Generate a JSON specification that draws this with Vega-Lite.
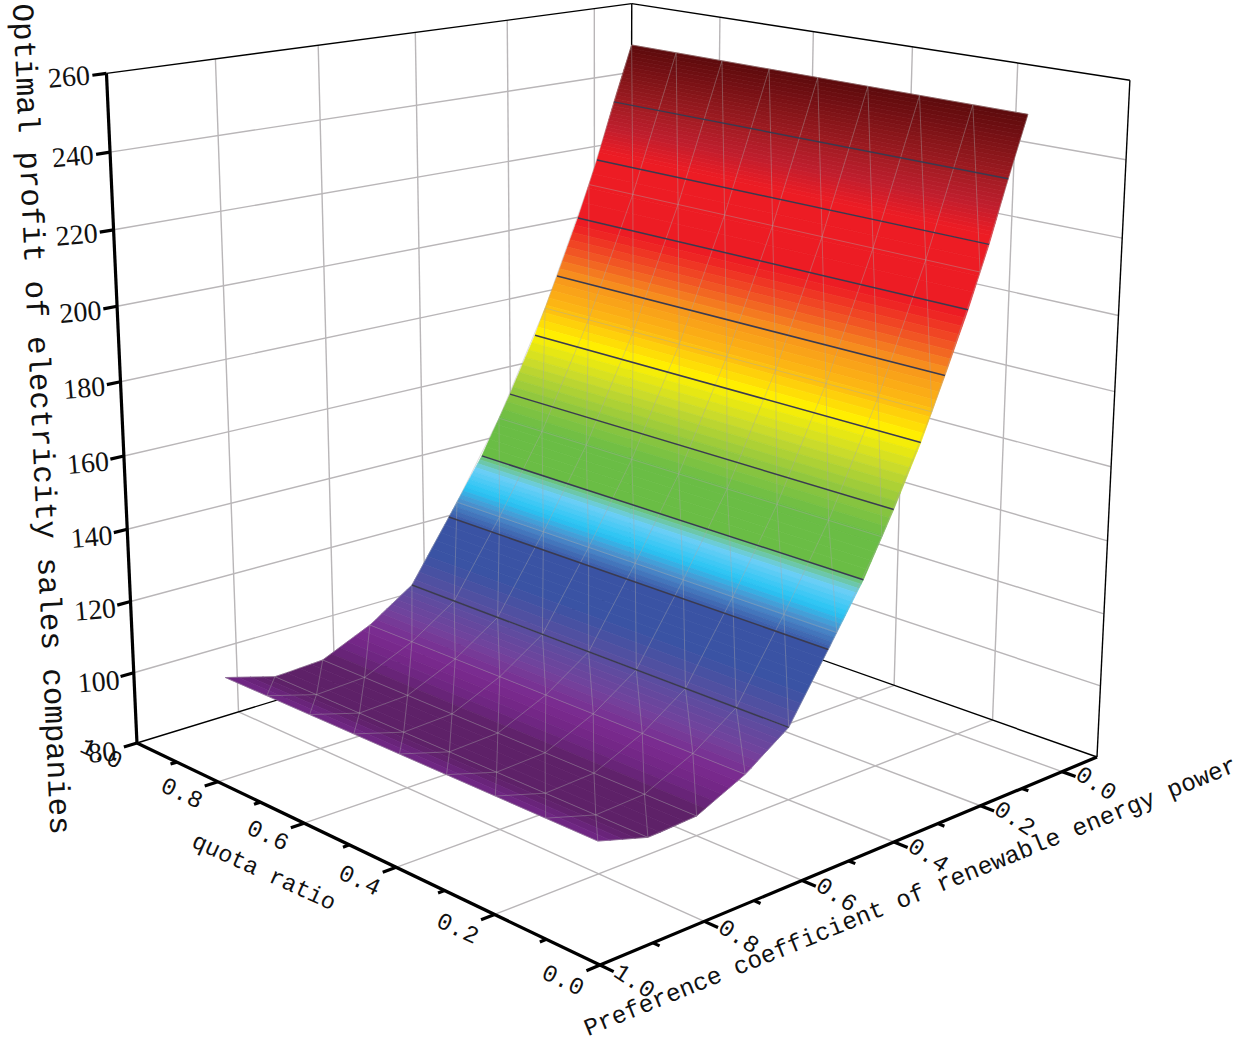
{"$schema":"https://vega.github.io/schema/vega-lite/v6.json","width":1245,"height":1046,"padding":0,"autosize":{"type":"fit","contains":"padding"},"background":"white","config":{"view":{"stroke":null}},
"projection":{"type":"identity","scale":1,"translate":[0,0]},
"datasets":{
"segments":[
{"k":"grid","q":0.2,"p":1,"z":80,"q2":0.2,"p2":-0.0893,"z2":80},{"k":"grid","q":0.4,"p":1,"z":80,"q2":0.4,"p2":-0.0893,"z2":80},{"k":"grid","q":0.6,"p":1,"z":80,"q2":0.6,"p2":-0.0893,"z2":80},{"k":"grid","q":0.8,"p":1,"z":80,"q2":0.8,"p2":-0.0893,"z2":80},
{"k":"grid","q":0,"p":0,"z":80,"q2":1,"p2":0,"z2":80},{"k":"grid","q":0,"p":0.2,"z":80,"q2":1,"p2":0.2,"z2":80},{"k":"grid","q":0,"p":0.4,"z":80,"q2":1,"p2":0.4,"z2":80},{"k":"grid","q":0,"p":0.6,"z":80,"q2":1,"p2":0.6,"z2":80},{"k":"grid","q":0,"p":0.8,"z":80,"q2":1,"p2":0.8,"z2":80},
{"k":"grid","q":1,"p":0,"z":80,"q2":1,"p2":0,"z2":260},{"k":"grid","q":1,"p":0.2,"z":80,"q2":1,"p2":0.2,"z2":260},{"k":"grid","q":1,"p":0.4,"z":80,"q2":1,"p2":0.4,"z2":260},{"k":"grid","q":1,"p":0.6,"z":80,"q2":1,"p2":0.6,"z2":260},{"k":"grid","q":1,"p":0.8,"z":80,"q2":1,"p2":0.8,"z2":260},
{"k":"grid","q":0.2,"p":-0.0893,"z":80,"q2":0.2,"p2":-0.0893,"z2":260},{"k":"grid","q":0.4,"p":-0.0893,"z":80,"q2":0.4,"p2":-0.0893,"z2":260},{"k":"grid","q":0.6,"p":-0.0893,"z":80,"q2":0.6,"p2":-0.0893,"z2":260},{"k":"grid","q":0.8,"p":-0.0893,"z":80,"q2":0.8,"p2":-0.0893,"z2":260},
{"k":"grid","q":1,"p":1,"z":100,"q2":1,"p2":-0.0893,"z2":100},{"k":"grid","q":1,"p":1,"z":120,"q2":1,"p2":-0.0893,"z2":120},{"k":"grid","q":1,"p":1,"z":140,"q2":1,"p2":-0.0893,"z2":140},{"k":"grid","q":1,"p":1,"z":160,"q2":1,"p2":-0.0893,"z2":160},{"k":"grid","q":1,"p":1,"z":180,"q2":1,"p2":-0.0893,"z2":180},{"k":"grid","q":1,"p":1,"z":200,"q2":1,"p2":-0.0893,"z2":200},{"k":"grid","q":1,"p":1,"z":220,"q2":1,"p2":-0.0893,"z2":220},{"k":"grid","q":1,"p":1,"z":240,"q2":1,"p2":-0.0893,"z2":240},
{"k":"grid","q":1,"p":-0.0893,"z":100,"q2":0,"p2":-0.0893,"z2":100},{"k":"grid","q":1,"p":-0.0893,"z":120,"q2":0,"p2":-0.0893,"z2":120},{"k":"grid","q":1,"p":-0.0893,"z":140,"q2":0,"p2":-0.0893,"z2":140},{"k":"grid","q":1,"p":-0.0893,"z":160,"q2":0,"p2":-0.0893,"z2":160},{"k":"grid","q":1,"p":-0.0893,"z":180,"q2":0,"p2":-0.0893,"z2":180},{"k":"grid","q":1,"p":-0.0893,"z":200,"q2":0,"p2":-0.0893,"z2":200},{"k":"grid","q":1,"p":-0.0893,"z":220,"q2":0,"p2":-0.0893,"z2":220},{"k":"grid","q":1,"p":-0.0893,"z":240,"q2":0,"p2":-0.0893,"z2":240},
{"k":"thin","q":1,"p":1,"z":260,"q2":1,"p2":-0.0893,"z2":260},{"k":"thin","q":1,"p":-0.0893,"z":260,"q2":0,"p2":-0.0893,"z2":260},{"k":"thin","q":1,"p":-0.0893,"z":80,"q2":1,"p2":-0.0893,"z2":260},{"k":"thin","q":0,"p":-0.0893,"z":80,"q2":0,"p2":-0.0893,"z2":260},{"k":"thin","q":1,"p":1,"z":80,"q2":1,"p2":-0.0893,"z2":80},{"k":"thin","q":1,"p":-0.0893,"z":80,"q2":0,"p2":-0.0893,"z2":80},
{"k":"thick","q":1,"p":1,"z":80,"q2":1,"p2":1,"z2":260},{"k":"thick","q":1,"p":1,"z":80,"q2":0,"p2":1,"z2":80},{"k":"thick","q":0,"p":1,"z":80,"q2":0,"p2":-0.0893,"z2":80},
{"k":"tick","q":0,"p":1,"z":80,"q2":0,"p2":1.025,"z2":80},{"k":"tick","q":0.1,"p":1,"z":80,"q2":0.1,"p2":1.012,"z2":80},{"k":"tick","q":0.2,"p":1,"z":80,"q2":0.2,"p2":1.025,"z2":80},{"k":"tick","q":0.3,"p":1,"z":80,"q2":0.3,"p2":1.012,"z2":80},{"k":"tick","q":0.4,"p":1,"z":80,"q2":0.4,"p2":1.025,"z2":80},{"k":"tick","q":0.5,"p":1,"z":80,"q2":0.5,"p2":1.012,"z2":80},{"k":"tick","q":0.6,"p":1,"z":80,"q2":0.6,"p2":1.025,"z2":80},{"k":"tick","q":0.7,"p":1,"z":80,"q2":0.7,"p2":1.012,"z2":80},{"k":"tick","q":0.8,"p":1,"z":80,"q2":0.8,"p2":1.025,"z2":80},{"k":"tick","q":0.9,"p":1,"z":80,"q2":0.9,"p2":1.012,"z2":80},
{"k":"tick","q":0,"p":0,"z":80,"q2":-0.025,"p2":0,"z2":80},{"k":"tick","q":0,"p":0.1,"z":80,"q2":-0.012,"p2":0.1,"z2":80},{"k":"tick","q":0,"p":0.2,"z":80,"q2":-0.025,"p2":0.2,"z2":80},{"k":"tick","q":0,"p":0.3,"z":80,"q2":-0.012,"p2":0.3,"z2":80},{"k":"tick","q":0,"p":0.4,"z":80,"q2":-0.025,"p2":0.4,"z2":80},{"k":"tick","q":0,"p":0.5,"z":80,"q2":-0.012,"p2":0.5,"z2":80},{"k":"tick","q":0,"p":0.6,"z":80,"q2":-0.025,"p2":0.6,"z2":80},{"k":"tick","q":0,"p":0.7,"z":80,"q2":-0.012,"p2":0.7,"z2":80},{"k":"tick","q":0,"p":0.8,"z":80,"q2":-0.025,"p2":0.8,"z2":80},{"k":"tick","q":0,"p":0.9,"z":80,"q2":-0.012,"p2":0.9,"z2":80},{"k":"tick","q":0,"p":1,"z":80,"q2":-0.025,"p2":1,"z2":80},
{"k":"tick","q":1,"p":1,"z":80,"q2":1,"p2":1.025,"z2":80},{"k":"tick","q":1,"p":1,"z":100,"q2":1,"p2":1.025,"z2":100},{"k":"tick","q":1,"p":1,"z":120,"q2":1,"p2":1.025,"z2":120},{"k":"tick","q":1,"p":1,"z":140,"q2":1,"p2":1.025,"z2":140},{"k":"tick","q":1,"p":1,"z":160,"q2":1,"p2":1.025,"z2":160},{"k":"tick","q":1,"p":1,"z":180,"q2":1,"p2":1.025,"z2":180},{"k":"tick","q":1,"p":1,"z":200,"q2":1,"p2":1.025,"z2":200},{"k":"tick","q":1,"p":1,"z":220,"q2":1,"p2":1.025,"z2":220},{"k":"tick","q":1,"p":1,"z":240,"q2":1,"p2":1.025,"z2":240},{"k":"tick","q":1,"p":1,"z":260,"q2":1,"p2":1.025,"z2":260}
],
"strips":[{"z":248,"p":-0.0893},{"z":247,"p":-0.0866},{"z":246,"p":-0.084},{"z":245,"p":-0.0813},{"z":244,"p":-0.0787},{"z":243,"p":-0.076},{"z":242,"p":-0.0733},{"z":241,"p":-0.0706},{"z":240,"p":-0.068},{"z":239,"p":-0.0653},{"z":238,"p":-0.0626},{"z":237,"p":-0.06},{"z":236,"p":-0.0573},{"z":235,"p":-0.0546},{"z":234,"p":-0.052},{"z":233,"p":-0.0494},{"z":232.1,"p":-0.047},{"z":231,"p":-0.0444},{"z":230,"p":-0.0417},{"z":229,"p":-0.0392},{"z":228,"p":-0.0367},{"z":227,"p":-0.0342},{"z":226,"p":-0.0317},{"z":225,"p":-0.0292},{"z":224,"p":-0.0268},{"z":223,"p":-0.0243},{"z":222,"p":-0.0218},{"z":221,"p":-0.0193},{"z":220,"p":-0.0168},{"z":219,"p":-0.0143},{"z":218,"p":-0.0118},{"z":215.8,"p":-0.0063},{"z":212,"p":0.0044},{"z":208,"p":0.0157},{"z":204,"p":0.027},{"z":199.7,"p":0.0392},{"z":197.7,"p":0.0454},{"z":195.7,"p":0.0517},{"z":193.7,"p":0.058},{"z":191.7,"p":0.0642},{"z":189.7,"p":0.0704},{"z":187.7,"p":0.0766},{"z":185.7,"p":0.0828},{"z":183.7,"p":0.0891},{"z":181.7,"p":0.0956},{"z":179.7,"p":0.1021},{"z":177.7,"p":0.1086},{"z":175.7,"p":0.115},{"z":173.7,"p":0.1216},{"z":171.7,"p":0.128},{"z":169.7,"p":0.1345},{"z":167.5,"p":0.1416},{"z":165.5,"p":0.149},{"z":163.5,"p":0.1564},{"z":161.5,"p":0.164},{"z":159.5,"p":0.1714},{"z":157.5,"p":0.1787},{"z":155.5,"p":0.1863},{"z":153.5,"p":0.1937},{"z":151.6,"p":0.2007},{"z":149.6,"p":0.2088},{"z":147.6,"p":0.2168},{"z":145.6,"p":0.2248},{"z":143.6,"p":0.2329},{"z":141.6,"p":0.241},{"z":139.6,"p":0.249},{"z":137.6,"p":0.2571},{"z":135.2,"p":0.2667},{"z":134.2,"p":0.2715},{"z":133.2,"p":0.2764},{"z":132.2,"p":0.2813},{"z":131.2,"p":0.2862},{"z":130.2,"p":0.291},{"z":129.2,"p":0.2959},{"z":128.2,"p":0.3008},{"z":127.2,"p":0.3057},{"z":126.2,"p":0.3105},{"z":125.2,"p":0.3154},{"z":124.2,"p":0.3203},{"z":123.2,"p":0.3252},{"z":122.2,"p":0.33},{"z":121.2,"p":0.3349},{"z":120.3,"p":0.339},{"z":119.5,"p":0.3432},{"z":117.5,"p":0.3529},{"z":115.5,"p":0.3628},{"z":113.5,"p":0.3727},{"z":111.5,"p":0.3825},{"z":109.5,"p":0.3923},{"z":107.5,"p":0.4021},{"z":105.5,"p":0.4119},{"z":103.5,"p":0.4217},{"z":102.2,"p":0.4281},{"z":101.2,"p":0.4394},{"z":100.2,"p":0.4507},{"z":99.2,"p":0.462},{"z":98.2,"p":0.4732},{"z":97.2,"p":0.4845},{"z":96.2,"p":0.4957},{"z":95,"p":0.5082},{"z":93.9,"p":0.5216},{"z":92.9,"p":0.5381},{"z":91.9,"p":0.5546},{"z":90.9,"p":0.5711},{"z":89.9,"p":0.5876},{"z":88.8,"p":0.6057},{"z":87.7,"p":0.6239},{"z":87.5,"p":0.6486},{"z":87.3,"p":0.6732},{"z":87.1,"p":0.6986},{"z":87,"p":0.724},{"z":88,"p":0.749},{"z":89,"p":0.774},{"z":90,"p":0.7989},{"z":91,"p":0.8238}],
"mesh":[{"r":0,"p":-0.0893,"z":248},{"r":1,"p":0.0131,"z":209},{"r":2,"p":0.1176,"z":174.9},{"r":3,"p":0.2266,"z":145.2},{"r":4,"p":0.3246,"z":123.3},{"r":5,"p":0.4281,"z":102.2},{"r":6,"p":0.5216,"z":93.9},{"r":7,"p":0.6239,"z":87.7},{"r":8,"p":0.724,"z":87},{"r":9,"p":0.8238,"z":91}],
"contours":[{"p":-0.047,"z":232.1},{"p":-0.0063,"z":215.8},{"p":0.0392,"z":199.7},{"p":0.0891,"z":183.7},{"p":0.1416,"z":167.5},{"p":0.2007,"z":151.6},{"p":0.2667,"z":135.2},{"p":0.3432,"z":119.5},{"p":0.4281,"z":102.2}],
"qlabels":[{"t":"0.0","q":0},{"t":"0.2","q":0.2},{"t":"0.4","q":0.4},{"t":"0.6","q":0.6},{"t":"0.8","q":0.8},{"t":"1.0","q":1}],
"plabels":[{"t":"0.0","p":0},{"t":"0.2","p":0.2},{"t":"0.4","p":0.4},{"t":"0.6","p":0.6},{"t":"0.8","p":0.8},{"t":"1.0","p":1}],
"zlabels":[{"t":"80","z":80},{"t":"100","z":100},{"t":"120","z":120},{"t":"140","z":140},{"t":"160","z":160},{"t":"180","z":180},{"t":"200","z":200},{"t":"220","z":220},{"t":"240","z":240},{"t":"260","z":260}]
},
"layer":[
{"data":{"name":"segments"},"transform":[
{"calculate":"(1048.7-371.2*datum.q-540.7*datum.p-0.20589*(datum.z-80))/(0.98743+0.1521*datum.q-0.14073*datum.p-0.000344*(datum.z-80))","as":"lon"},
{"calculate":"(761.93-75*datum.q+55.17*datum.p-3.7667*(datum.z-80))/(0.98743+0.1521*datum.q-0.14073*datum.p-0.000344*(datum.z-80))+(datum.z-80)/180*(-3.59+4*datum.q+4.59*datum.p)","as":"lat"},
{"calculate":"(1048.7-371.2*datum.q2-540.7*datum.p2-0.20589*(datum.z2-80))/(0.98743+0.1521*datum.q2-0.14073*datum.p2-0.000344*(datum.z2-80))","as":"lon2"},
{"calculate":"(761.93-75*datum.q2+55.17*datum.p2-3.7667*(datum.z2-80))/(0.98743+0.1521*datum.q2-0.14073*datum.p2-0.000344*(datum.z2-80))+(datum.z2-80)/180*(-3.59+4*datum.q2+4.59*datum.p2)","as":"lat2"}],
"mark":{"type":"rule"},
"encoding":{"longitude":{"field":"lon","type":"quantitative"},"latitude":{"field":"lat","type":"quantitative"},"longitude2":{"field":"lon2"},"latitude2":{"field":"lat2"},
"color":{"condition":{"test":"datum.k=='grid'","value":"#b9b6b8"},"value":"#000000"},
"strokeWidth":{"condition":{"test":"datum.k=='thick'||datum.k=='tick'","value":3.2},"value":1.4}}},
{"data":{"name":"strips"},"transform":[
{"window":[{"op":"lead","field":"p","as":"p2"},{"op":"lead","field":"z","as":"z2"}],"sort":[{"field":"p","order":"ascending"}]},
{"filter":"datum.p2!=null"},
{"calculate":"(datum.z+datum.z2)/2","as":"zc"},
{"calculate":"1.13953-0.14073*datum.p-0.000344*(datum.z-80)","as":"wa"},
{"calculate":"1.0145-0.14073*datum.p-0.000344*(datum.z-80)","as":"wb0"},
{"calculate":"1.13953-0.14073*datum.p2-0.000344*(datum.z2-80)","as":"wd"},
{"calculate":"1.0145-0.14073*datum.p2-0.000344*(datum.z2-80)","as":"wc"},
{"calculate":"{type:'Feature',properties:{},geometry:{type:'Polygon',coordinates:[[[(677.5-540.7*datum.p-0.20589*(datum.z-80))/datum.wa,(686.93+55.17*datum.p-3.7667*(datum.z-80))/datum.wa],[(982.63-540.7*datum.p-0.20589*(datum.z-80))/datum.wb0,(748.58+55.17*datum.p-3.7667*(datum.z-80))/datum.wb0],[(982.63-540.7*datum.p2-0.20589*(datum.z2-80))/datum.wc,(748.58+55.17*datum.p2-3.7667*(datum.z2-80))/datum.wc],[(677.5-540.7*datum.p2-0.20589*(datum.z2-80))/datum.wd,(686.93+55.17*datum.p2-3.7667*(datum.z2-80))/datum.wd],[(677.5-540.7*datum.p-0.20589*(datum.z-80))/datum.wa,(686.93+55.17*datum.p-3.7667*(datum.z-80))/datum.wa]]]}}","as":"geo"}],
"mark":{"type":"geoshape","strokeWidth":0.7},
"encoding":{"shape":{"field":"geo","type":"geojson"},
"color":{"field":"zc","type":"quantitative","legend":null,"scale":{"interpolate":"rgb","domain":[87,88,90,93,97,102,110,119,124,127,132,136,145,152,160,168,176,184,190,198,218,225,232,248],"range":["#5e2168","#5e2168","#6d2580","#7b2a8f","#73429c","#5a4ea0","#3a53a4","#3a53a4","#4b94d0","#27c4f4","#6dcff6","#6abd45","#6abd45","#8dc63f","#c6d92e","#fff200","#fdb813","#f7941d","#f15a24","#ed1c24","#ed1c24","#bf1e2e","#a01c22","#5c0a0c"]}},
"stroke":{"field":"zc","type":"quantitative","legend":null,"scale":{"interpolate":"rgb","domain":[87,88,90,93,97,102,110,119,124,127,132,136,145,152,160,168,176,184,190,198,218,225,232,248],"range":["#5e2168","#5e2168","#6d2580","#7b2a8f","#73429c","#5a4ea0","#3a53a4","#3a53a4","#4b94d0","#27c4f4","#6dcff6","#6abd45","#6abd45","#8dc63f","#c6d92e","#fff200","#fdb813","#f7941d","#f15a24","#ed1c24","#ed1c24","#bf1e2e","#a01c22","#5c0a0c"]}}}},
{"data":{"name":"mesh"},"transform":[{"calculate":"[0.178,0.28075,0.3835,0.48625,0.589,0.69175,0.7945,0.89725,1]","as":"q"},{"flatten":["q"]},
{"calculate":"(1048.7-371.2*datum.q-540.7*datum.p-0.20589*(datum.z-80))/(0.98743+0.1521*datum.q-0.14073*datum.p-0.000344*(datum.z-80))","as":"lon"},
{"calculate":"(761.93-75*datum.q+55.17*datum.p-3.7667*(datum.z-80))/(0.98743+0.1521*datum.q-0.14073*datum.p-0.000344*(datum.z-80))","as":"lat"}],
"mark":{"type":"line","stroke":"#a8a8a8","strokeWidth":0.9,"opacity":0.45},
"encoding":{"longitude":{"field":"lon","type":"quantitative"},"latitude":{"field":"lat","type":"quantitative"},"detail":{"field":"r"},"order":{"field":"q","type":"quantitative"}}},
{"data":{"name":"mesh"},"transform":[{"calculate":"[0.178,0.28075,0.3835,0.48625,0.589,0.69175,0.7945,0.89725,1]","as":"q"},{"flatten":["q"]},
{"calculate":"(1048.7-371.2*datum.q-540.7*datum.p-0.20589*(datum.z-80))/(0.98743+0.1521*datum.q-0.14073*datum.p-0.000344*(datum.z-80))","as":"lon"},
{"calculate":"(761.93-75*datum.q+55.17*datum.p-3.7667*(datum.z-80))/(0.98743+0.1521*datum.q-0.14073*datum.p-0.000344*(datum.z-80))","as":"lat"}],
"mark":{"type":"line","stroke":"#a8a8a8","strokeWidth":0.9,"opacity":0.45},
"encoding":{"longitude":{"field":"lon","type":"quantitative"},"latitude":{"field":"lat","type":"quantitative"},"detail":{"field":"q"},"order":{"field":"r","type":"quantitative"}}},
{"data":{"name":"mesh"},"transform":[{"calculate":"[0.178,0.28075,0.3835,0.48625,0.589,0.69175,0.7945,0.89725,1]","as":"q"},{"flatten":["q"]},
{"calculate":"round((datum.q-0.178)/0.10275)+datum.r","as":"d"},
{"calculate":"(1048.7-371.2*datum.q-540.7*datum.p-0.20589*(datum.z-80))/(0.98743+0.1521*datum.q-0.14073*datum.p-0.000344*(datum.z-80))","as":"lon"},
{"calculate":"(761.93-75*datum.q+55.17*datum.p-3.7667*(datum.z-80))/(0.98743+0.1521*datum.q-0.14073*datum.p-0.000344*(datum.z-80))","as":"lat"}],
"mark":{"type":"line","stroke":"#a8a8a8","strokeWidth":0.9,"opacity":0.45},
"encoding":{"longitude":{"field":"lon","type":"quantitative"},"latitude":{"field":"lat","type":"quantitative"},"detail":{"field":"d"},"order":{"field":"r","type":"quantitative"}}},
{"data":{"name":"contours"},"transform":[
{"calculate":"(677.5-540.7*datum.p-0.20589*(datum.z-80))/(1.13953-0.14073*datum.p-0.000344*(datum.z-80))","as":"lon"},
{"calculate":"(686.93+55.17*datum.p-3.7667*(datum.z-80))/(1.13953-0.14073*datum.p-0.000344*(datum.z-80))","as":"lat"},
{"calculate":"(982.63-540.7*datum.p-0.20589*(datum.z-80))/(1.0145-0.14073*datum.p-0.000344*(datum.z-80))","as":"lon2"},
{"calculate":"(748.58+55.17*datum.p-3.7667*(datum.z-80))/(1.0145-0.14073*datum.p-0.000344*(datum.z-80))","as":"lat2"}],
"mark":{"type":"rule","stroke":"#3a3a50","strokeWidth":1.5},
"encoding":{"longitude":{"field":"lon","type":"quantitative"},"latitude":{"field":"lat","type":"quantitative"},"longitude2":{"field":"lon2"},"latitude2":{"field":"lat2"}}},
{"data":{"name":"qlabels"},"transform":[
{"calculate":"(1048.7-371.2*datum.q-540.7*1.068)/(0.98743+0.1521*datum.q-0.14073*1.068)","as":"lon"},
{"calculate":"(761.93-75*datum.q+55.17*1.068)/(0.98743+0.1521*datum.q-0.14073*1.068)","as":"lat"}],
"mark":{"type":"text","font":"Liberation Mono","fontSize":24,"angle":25,"align":"center","baseline":"middle","fill":"#111111"},
"encoding":{"longitude":{"field":"lon","type":"quantitative"},"latitude":{"field":"lat","type":"quantitative"},"text":{"field":"t"}}},
{"data":{"name":"plabels"},"transform":[
{"calculate":"(1048.7+371.2*0.062-540.7*datum.p)/(0.98743-0.1521*0.062-0.14073*datum.p)","as":"lon"},
{"calculate":"(761.93+75*0.062+55.17*datum.p)/(0.98743-0.1521*0.062-0.14073*datum.p)","as":"lat"}],
"mark":{"type":"text","font":"Liberation Mono","fontSize":24,"angle":33,"align":"center","baseline":"middle","fill":"#111111"},
"encoding":{"longitude":{"field":"lon","type":"quantitative"},"latitude":{"field":"lat","type":"quantitative"},"text":{"field":"t"}}},
{"data":{"name":"zlabels"},"transform":[
{"calculate":"(1048.7-371.2-540.7*1.066-0.20589*(datum.z-80))/(0.98743+0.1521-0.14073*1.066-0.000344*(datum.z-80))","as":"lon"},
{"calculate":"(761.93-75+55.17*1.066-3.7667*(datum.z-80))/(0.98743+0.1521-0.14073*1.066-0.000344*(datum.z-80))+(datum.z-80)/180*5","as":"lat"}],
"mark":{"type":"text","font":"Liberation Serif","fontSize":28,"angle":355,"align":"center","baseline":"middle","fill":"#111111"},
"encoding":{"longitude":{"field":"lon","type":"quantitative"},"latitude":{"field":"lat","type":"quantitative"},"text":{"field":"t"}}},
{"data":{"values":[{"t":"Optimal profit of electricity sales companies","q":1,"p":1.146,"z":173.9}]},"transform":[
{"calculate":"(1048.7-371.2*datum.q-540.7*datum.p-0.20589*(datum.z-80))/(0.98743+0.1521*datum.q-0.14073*datum.p-0.000344*(datum.z-80))","as":"lon"},
{"calculate":"(761.93-75*datum.q+55.17*datum.p-3.7667*(datum.z-80))/(0.98743+0.1521*datum.q-0.14073*datum.p-0.000344*(datum.z-80))","as":"lat"}],
"mark":{"type":"text","font":"Liberation Mono","fontSize":30.8,"angle":87.4,"align":"center","baseline":"middle","fill":"#111111"},
"encoding":{"longitude":{"field":"lon","type":"quantitative"},"latitude":{"field":"lat","type":"quantitative"},"text":{"field":"t"}}},
{"data":{"values":[{"t":"quota ratio","q":0.508,"p":1.15,"z":80}]},"transform":[
{"calculate":"(1048.7-371.2*datum.q-540.7*datum.p-0.20589*(datum.z-80))/(0.98743+0.1521*datum.q-0.14073*datum.p-0.000344*(datum.z-80))","as":"lon"},
{"calculate":"(761.93-75*datum.q+55.17*datum.p-3.7667*(datum.z-80))/(0.98743+0.1521*datum.q-0.14073*datum.p-0.000344*(datum.z-80))","as":"lat"}],
"mark":{"type":"text","font":"Liberation Mono","fontSize":23.5,"angle":24.5,"align":"center","baseline":"middle","fill":"#111111"},
"encoding":{"longitude":{"field":"lon","type":"quantitative"},"latitude":{"field":"lat","type":"quantitative"},"text":{"field":"t"}}},
{"data":{"values":[{"t":"Preference coefficient of renewable energy power","q":-0.133,"p":0.527,"z":80}]},"transform":[
{"calculate":"(1048.7-371.2*datum.q-540.7*datum.p-0.20589*(datum.z-80))/(0.98743+0.1521*datum.q-0.14073*datum.p-0.000344*(datum.z-80))","as":"lon"},
{"calculate":"(761.93-75*datum.q+55.17*datum.p-3.7667*(datum.z-80))/(0.98743+0.1521*datum.q-0.14073*datum.p-0.000344*(datum.z-80))","as":"lat"}],
"mark":{"type":"text","font":"Liberation Mono","fontSize":24.4,"angle":337.8,"align":"center","baseline":"middle","fill":"#111111"},
"encoding":{"longitude":{"field":"lon","type":"quantitative"},"latitude":{"field":"lat","type":"quantitative"},"text":{"field":"t"}}}
]}
